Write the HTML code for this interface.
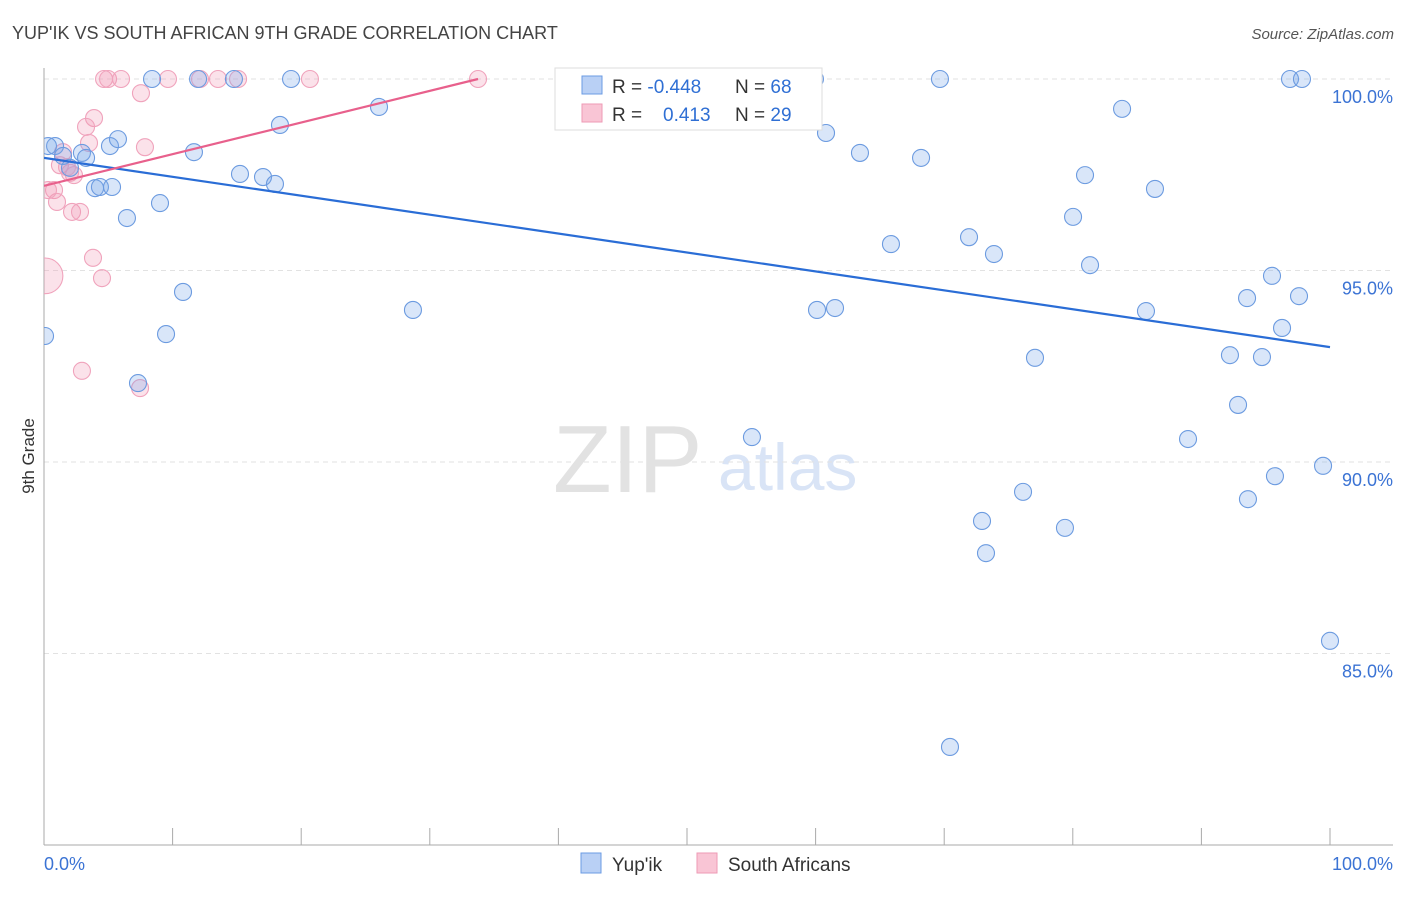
<!DOCTYPE html>
<html><head><meta charset="utf-8"><style>
body{margin:0;background:#fff;font-family:"Liberation Sans",sans-serif;}
svg text{font-family:"Liberation Sans",sans-serif;}
</style></head><body>
<svg id="chart" width="1406" height="892" viewBox="0 0 1406 892" xmlns="http://www.w3.org/2000/svg">
<defs><clipPath id="plotclip"><rect x="44" y="40" width="1360" height="805"/></clipPath></defs>
<text x="12" y="39" font-size="18" fill="#444">YUP'IK VS SOUTH AFRICAN 9TH GRADE CORRELATION CHART</text>
<text x="1394" y="39" font-size="15" fill="#555" text-anchor="end" font-style="italic">Source: ZipAtlas.com</text>
<text x="553" y="492" font-size="96" fill="#e2e2e2" font-family="Liberation Serif,serif">ZIP</text>
<text x="718" y="490" font-size="66" fill="#d9e4f6">atlas</text>
<g id="grid"></g>
<g id="axes"></g>
<text transform="translate(34,456) rotate(-90)" font-size="17" fill="#333" text-anchor="middle">9th Grade</text>
<g id="marks" clip-path="url(#plotclip)"></g>
<g id="legend">
<rect x="555" y="68" width="267" height="62" fill="#fff" stroke="#ddd"/>
<rect x="582" y="76" width="20" height="18" fill="#b9d0f5" stroke="#6b9be3"/>
<rect x="582" y="104" width="20" height="18" fill="#f9c5d5" stroke="#ee9ab5"/>
<text x="612" y="93" font-size="19" fill="#333">R = <tspan fill="#2f6fd4">-0.448</tspan></text>
<text x="735" y="93" font-size="19" fill="#333">N = <tspan fill="#2f6fd4">68</tspan></text>
<text x="612" y="121" font-size="19" fill="#333">R = <tspan fill="#2f6fd4" x="663">0.413</tspan></text>
<text x="735" y="121" font-size="19" fill="#333">N = <tspan fill="#2f6fd4">29</tspan></text>
</g>
<g>
<rect x="581" y="853" width="20" height="20" fill="#b9d0f5" stroke="#6b9be3"/>
<text x="612" y="871" font-size="19" fill="#333">Yup'ik</text>
<rect x="697" y="853" width="20" height="20" fill="#f9c5d5" stroke="#ee9ab5"/>
<text x="728" y="871" font-size="19" fill="#333">South Africans</text>
</g>
</svg>
<script>
const yTicks=[100,95,90,85];
const yTickLabels=["100.0%","95.0%","90.0%","85.0%"];
const xTickLabels=["0.0%","100.0%"];
const blueX=[0.86,1.48,2.95,3.27,5.13,5.75,2.02,3.97,4.35,5.29,6.45,8.40,9.02,9.49,10.81,11.66,11.98,14.77,15.24,17.03,17.96,18.35,19.21,7.31,0.08,26.05,28.69,41.68,50.23,55.05,58.24,59.95,60.11,61.51,60.81,63.45,65.86,68.20,69.67,70.45,71.93,72.94,73.25,73.87,76.13,77.06,79.39,80.02,80.95,81.34,83.83,85.69,86.39,88.96,92.22,92.85,93.55,93.62,94.71,95.49,95.72,96.27,96.89,97.59,97.82,99.46,100,0.31];
const blueY=[98.25,97.99,98.07,97.94,98.25,98.43,97.68,97.15,97.18,97.18,96.37,100,96.76,93.34,94.44,98.09,100,100,97.52,97.44,97.26,98.80,100,92.06,93.29,99.27,93.97,100,100,90.65,99.56,100,93.97,94.02,98.59,98.07,95.69,97.94,100,82.56,95.87,88.46,87.62,95.43,89.22,92.72,88.28,96.40,97.49,95.14,99.22,93.94,97.13,90.60,92.79,91.49,94.28,89.03,92.74,94.86,89.63,93.50,100,94.33,100,89.90,85.33,98.25];
const pinkX=[4.67,4.98,5.99,9.64,12.13,13.53,15.09,20.68,33.75,7.54,3.89,3.27,7.85,3.50,1.48,1.24,2.02,2.33,0.78,1.01,2.18,2.80,3.81,4.51,2.95,7.47,0.08,0.31,1.79];
const pinkY=[100,100,100,100,100,100,100,100,100,99.63,98.98,98.75,98.22,98.33,98.09,97.75,97.55,97.49,97.10,96.79,96.53,96.53,95.33,94.80,92.38,91.93,94.86,97.10,97.70];
const pinkSize=[1,1,1,1,1,1,1,1,1,1,1,1,1,1,1,1,1,1,1,1,1,1,1,1,1,1,2.1,1,1];
const blueTrendX=[0,100];
const blueTrendY=[97.94,93.0];
const pinkTrendX=[0,33.75];
const pinkTrendY=[97.21,100];

const NS="http://www.w3.org/2000/svg";
const xs=v=>44+v*12.86;
const ys=v=>79+(100-v)*38.3;
function mk(tag,attrs,parent){const e=document.createElementNS(NS,tag);for(const k in attrs)e.setAttribute(k,attrs[k]);parent.appendChild(e);return e;}
const grid=document.getElementById('grid'),axes=document.getElementById('axes'),marks=document.getElementById('marks');
yTicks.forEach((t,i)=>{
 const l=mk('line',{x1:44,x2:1393,y1:ys(t),y2:ys(t),stroke:'#e2e2e2','stroke-dasharray':'5,4'},grid);
 
 
 const tx=mk('text',{x:1393,y:ys(t)+24,'font-size':18,fill:'#3b73d4','text-anchor':'end'},axes);
 tx.textContent=yTickLabels[i];
 
 
});
const ax=mk('line',{x1:44,x2:44,y1:68,y2:845,stroke:'#aaa'},axes);


const bx=mk('line',{x1:44,x2:1393,y1:845,y2:845,stroke:'#aaa'},axes);


for(let i=0;i<=10;i++){
 const t=mk('line',{x1:xs(i*10),x2:xs(i*10),y1:828,y2:845,stroke:'#aaa'},axes);
 
 
}
const xl0=mk('text',{x:44,y:870,'font-size':18,fill:'#3b73d4'},axes);
xl0.textContent=xTickLabels[0];


const xl1=mk('text',{x:1393,y:870,'font-size':18,fill:'#3b73d4','text-anchor':'end'},axes);
xl1.textContent=xTickLabels[1];



pinkX.forEach((x,i)=>{
 const c=mk('circle',{cx:xs(x),cy:ys(pinkY[i]),r:8.5*pinkSize[i],fill:'rgba(242,150,180,0.28)',stroke:'#f0a3bc','stroke-width':1.1},marks);
 
 
});
blueX.forEach((x,i)=>{
 const c=mk('circle',{cx:xs(x),cy:ys(blueY[i]),r:8.5,fill:'rgba(120,165,235,0.28)',stroke:'#6c9be0','stroke-width':1.1},marks);
 
 
});
const bl=mk('line',{x1:xs(blueTrendX[0]),y1:ys(blueTrendY[0]),x2:xs(blueTrendX[1]),y2:ys(blueTrendY[1]),stroke:'#2a6dd6','stroke-width':2.2},marks);


const pl=mk('line',{x1:xs(pinkTrendX[0]),y1:ys(pinkTrendY[0]),x2:xs(pinkTrendX[1]),y2:ys(pinkTrendY[1]),stroke:'#e8608c','stroke-width':2.2},marks);


</script>
</body></html>
